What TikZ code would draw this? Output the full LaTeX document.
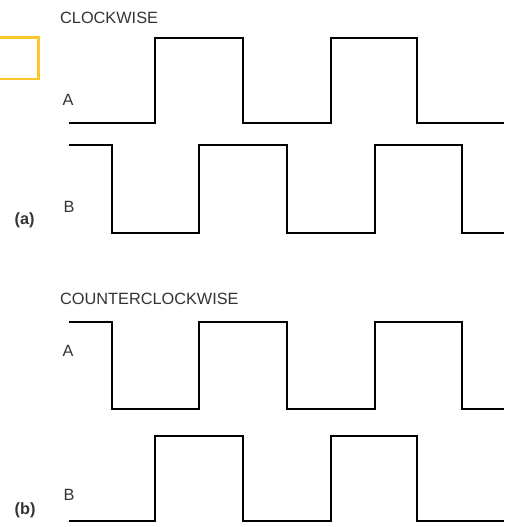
\documentclass[tikz,border=0pt]{standalone}
\usepackage{fontspec}
\setmainfont{Liberation Sans}
\usepackage{xcolor}
\definecolor{marker yellow}{HTML}{FFC629}
\colorlet{wave edge}{black}
\colorlet{label text}{black!80}
\def\highA{38}  \def\lowA{123}
\def\highB{145} \def\lowB{232.5}
\def\highC{321.5} \def\lowC{408.5}
\def\highD{436} \def\lowD{521}
\tikzset{wave/.style={draw=wave edge, line width=2pt, line join=miter},
    tag/.style={anchor=base west, inner sep=0pt, text=label text,
      font=\fontsize{16.3}{18}\selectfont},
    part/.style={tag, font=\fontsize{16.3}{18}\selectfont\bfseries}}

\begin{document}
\begin{tikzpicture}[x=1pt, y=-1pt]
    \useasboundingbox (0,0) rectangle (504,527);
    % marker box, cut by the left edge
    \draw[marker yellow, line width=2.7pt] (0,37.5) -- (38.5,37.5) -- (38.5,79) -- (0,79);
    % (a) clockwise
    \node[tag] (cw) at (60,24) {CLOCKWISE};
    \node[tag] (cwA) at (62.5,105.3) {A};
    \node[tag] (cwB) at (63.5,212.7) {B};
    \node[part] (parta) at (14.5,224.5) {(a)};
    \draw[wave] (69,\lowA) -| (155.3,\highA) -| (242.7,\lowA) -| (330.7,\highA)
        -| (417.3,\lowA) -- (504,\lowA);
    \draw[wave] (69,\highB) -| (112.3,\lowB) -| (199.3,\highB) -| (286.7,\lowB)
        -| (375.3,\highB) -| (461.7,\lowB) -- (504,\lowB);
    % (b) counterclockwise
    \node[tag] (ccw) at (60,304.7) {COUNTERCLOCKWISE};
    \node[tag] (ccwA) at (62.5,356.7) {A};
    \node[tag] (ccwB) at (63.5,500.7) {B};
    \node[part] (partb) at (14.5,514) {(b)};
    \draw[wave] (69,\highC) -| (112.3,\lowC) -| (199.3,\highC) -| (286.7,\lowC)
        -| (375.3,\highC) -| (461.7,\lowC) -- (504,\lowC);
    \draw[wave] (69,\lowD) -| (155.3,\highD) -| (242.7,\lowD) -| (330.7,\highD)
        -| (417.3,\lowD) -- (504,\lowD);
\end{tikzpicture}
\end{document}
